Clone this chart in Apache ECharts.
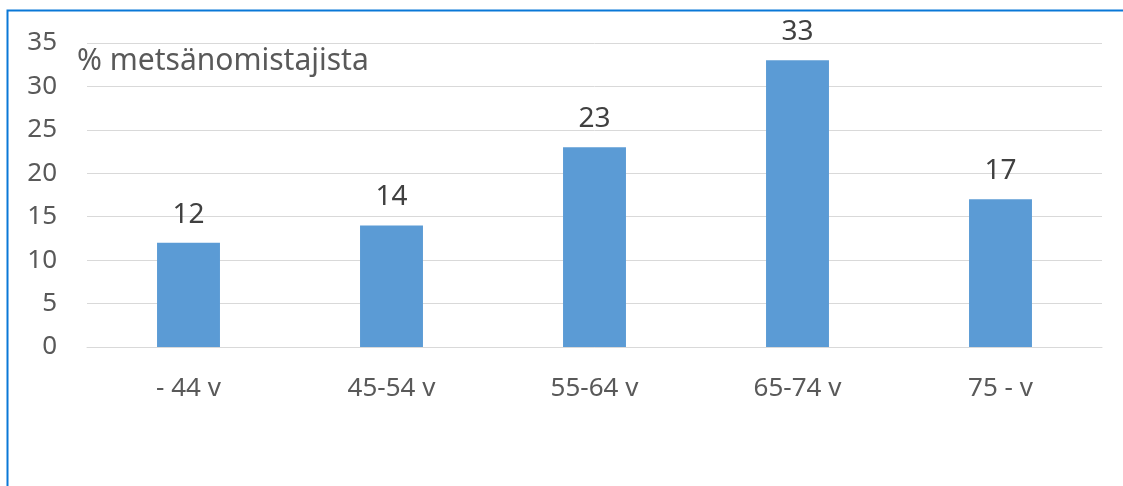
<!DOCTYPE html>
<html>
<head>
<meta charset="utf-8">
<script src="https://cdn.jsdelivr.net/npm/echarts@6/dist/echarts.min.js"></script>
<style>
    html, body {margin: 0; padding: 0; background: #fff;}
    #chart {width: 1123px; height: 486px;}
</style>
</head>
<body>
<div id="chart"></div>
<script type="text/javascript">
    // ikäryhmät ja osuudet
    var categories = ['- 44 v', '45-54 v', '55-64 v', '65-74 v', '75 - v'];
    var values = [12, 14, 23, 33, 17];
    var yTicks = [0, 5, 10, 15, 20, 25, 30, 35];

    var textColor = '#595959';
    var fontName = '"Noto Sans", "Open Sans", sans-serif';

    var myChart = echarts.init(document.getElementById('chart'));
    var option = {
        animation: false,
        title: {
            text: '% metsänomistajista',
            left: 72,
            top: 41,
            textStyle: {color: textColor, fontSize: 30, fontWeight: 'normal', fontFamily: fontName}
        },
        graphic: [{
            type: 'rect',
            shape: {x: 7.5, y: 10.5, width: 1300, height: 600},
            style: {fill: 'none', stroke: '#0A78D7', lineWidth: 2},
            silent: true
        }],
        grid: {left: 87, right: 21, top: 43, bottom: 139},
        xAxis: {
            type: 'category',
            data: categories,
            axisLine: {lineStyle: {color: '#D9D9D9', width: 1}},
            axisTick: {show: false},
            axisLabel: {color: textColor, fontSize: 26, fontFamily: fontName, margin: 29}
        },
        yAxis: {
            type: 'value',
            min: yTicks[0],
            max: yTicks[yTicks.length - 1],
            interval: 5,
            axisLine: {show: false},
            axisTick: {show: false},
            splitLine: {lineStyle: {color: '#D9D9D9', width: 1}},
            axisLabel: {color: textColor, fontSize: 26, fontFamily: fontName, margin: 30}
        },
        series: [{
            type: 'bar',
            data: values,
            barWidth: '31%',
            itemStyle: {color: '#5B9BD5'},
            label: {
                show: true,
                position: 'top',
                distance: 14,
                color: '#404040',
                fontSize: 28,
                fontFamily: fontName
            }
        }]
    };
    myChart.setOption(option, true);
</script>
</body>
</html>
